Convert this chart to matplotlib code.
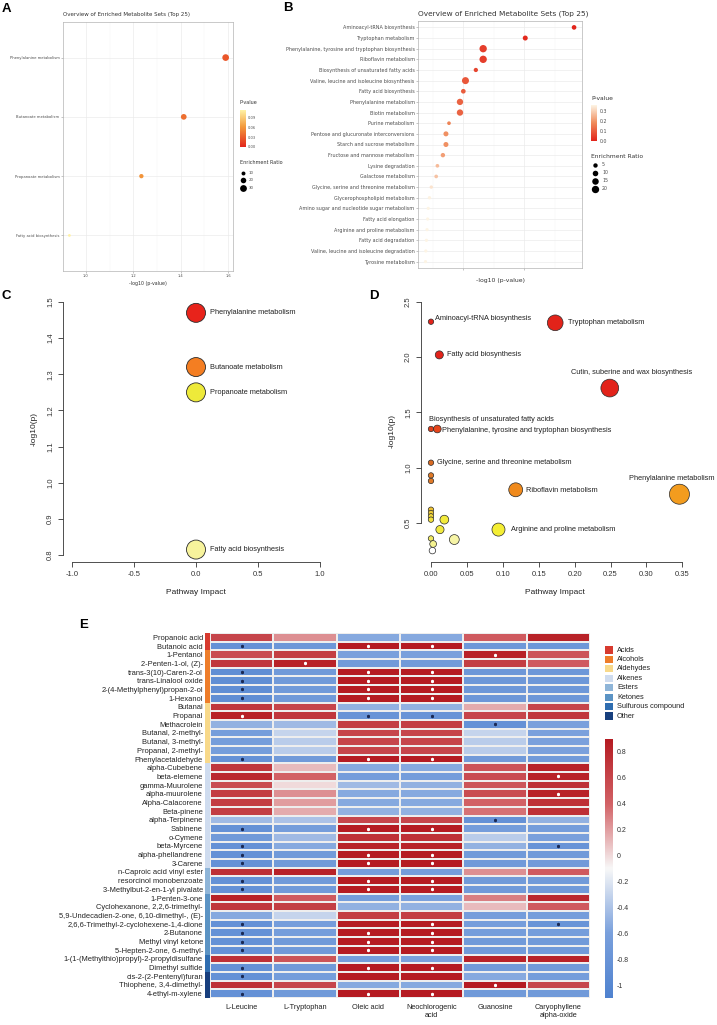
import numpy as np
import matplotlib
matplotlib.use("Agg")
import matplotlib.pyplot as plt
from matplotlib.colors import LinearSegmentedColormap, ListedColormap, Normalize
from matplotlib.cm import ScalarMappable
from matplotlib.patches import Rectangle

plt.rcParams["font.family"] = ["Liberation Sans", "DejaVu Sans"]

# ---------------- data ----------------
# A: enrichment overview (4 sets)
a_sets = ["Phenylalanine metabolism", "Butanoate metabolism",
          "Propanoate metabolism", "Fatty acid biosynthesis"]
a_logp = [1.59, 1.413, 1.234, 0.93]
a_ratio = [29, 21, 12, 5]

# B: enrichment overview (top 25)
b_sets = [
    "Aminoacyl-tRNA biosynthesis",
    "Tryptophan metabolism",
    "Phenylalanine, tyrosine and tryptophan biosynthesis",
    "Riboflavin metabolism",
    "Biosynthesis of unsaturated fatty acids",
    "Valine, leucine and isoleucine biosynthesis",
    "Fatty acid biosynthesis",
    "Phenylalanine metabolism",
    "Biotin metabolism",
    "Purine metabolism",
    "Pentose and glucuronate interconversions",
    "Starch and sucrose metabolism",
    "Fructose and mannose metabolism",
    "Lysine degradation",
    "Galactose metabolism",
    "Glycine, serine and threonine metabolism",
    "Glycerophospholipid metabolism",
    "Amino sugar and nucleotide sugar metabolism",
    "Fatty acid elongation",
    "Arginine and proline metabolism",
    "Fatty acid degradation",
    "Valine, leucine and isoleucine degradation",
    "Tyrosine metabolism",
]
b_logp = [2.82, 2.02, 1.33, 1.33, 1.21, 1.04, 1.005, 0.95, 0.95, 0.77, 0.72, 0.72,
          0.67, 0.58, 0.56, 0.48, 0.45, 0.43, 0.42, 0.41, 0.40, 0.39, 0.385]
b_ratio = [6, 7.5, 20, 20, 4.5, 18, 6, 14, 14, 2.5, 7.5, 7.5,
           5, 2.5, 2.5, 1.5, 1.5, 1, 1, 1, 1, 1, 1]

# C: pathway impact (4 pathways)
c_paths = ["Phenylalanine metabolism", "Butanoate metabolism",
           "Propanoate metabolism", "Fatty acid biosynthesis"]
c_impact = [0.0, 0.0, 0.0, 0.0]
c_logp = [1.47, 1.32, 1.25, 0.815]

# D: pathway impact (all pathways, unlabeled ones have "")
d_names = ["Aminoacyl-tRNA biosynthesis", "Tryptophan metabolism",
           "Fatty acid biosynthesis", "Cutin, suberine and wax biosynthesis",
           "Biosynthesis of unsaturated fatty acids",
           "Phenylalanine, tyrosine and tryptophan biosynthesis",
           "Glycine, serine and threonine metabolism", "", "",
           "Riboflavin metabolism", "Phenylalanine metabolism",
           "", "", "", "", "", "Arginine and proline metabolism",
           "", "", "", "", ""]
d_impact = [0.0, 0.173, 0.0116, 0.249, 0.0, 0.0088, 0.0, 0.0, 0.0, 0.118, 0.346,
            0.0, 0.0, 0.0, 0.0, 0.0186, 0.094, 0.0125, 0.0, 0.003, 0.0325, 0.002]
d_logp = [2.32, 2.31, 2.02, 1.72, 1.35, 1.35, 1.045, 0.93, 0.88, 0.80, 0.76,
          0.62, 0.59, 0.56, 0.53, 0.53, 0.44, 0.44, 0.36, 0.31, 0.35, 0.25]

# E: correlation heatmap
e_rows = [
    "Propanoic acid", "Butanoic acid", "1-Pentanol", "2-Penten-1-ol, (Z)-",
    "trans-3(10)-Caren-2-ol", "trans-Linalool oxide", "2-(4-Methylphenyl)propan-2-ol",
    "1-Hexanol", "Butanal", "Propanal", "Methacrolein", "Butanal, 2-methyl-",
    "Butanal, 3-methyl-", "Propanal, 2-methyl-", "Phenylacetaldehyde",
    "alpha-Cubebene", "beta-elemene", "gamma-Muurolene", "alpha-muurolene",
    "Alpha-Calacorene", "Beta-pinene", "alpha-Terpinene", "Sabinene", "o-Cymene",
    "beta-Myrcene", "alpha-phellandrene", "3-Carene", "n-Caproic acid vinyl ester",
    "resorcinol monobenzoate", "3-Methylbut-2-en-1-yl pivalate", "1-Penten-3-one",
    "Cyclohexanone, 2,2,6-trimethyl-", "5,9-Undecadien-2-one, 6,10-dimethyl-, (E)-",
    "2,6,6-Trimethyl-2-cyclohexene-1,4-dione", "2-Butanone", "Methyl vinyl ketone",
    "5-Hepten-2-one, 6-methyl-", "1-(1-(Methylthio)propyl)-2-propyldisulfane",
    "Dimethyl sulfide", "cis-2-(2-Pentenyl)furan", "Thiophene, 3,4-dimethyl-",
    "4-ethyl-m-xylene",
]
e_cols = ["L-Leucine", "L-Tryptophan", "Oleic acid", "Neochlorogenic\nacid",
          "Guanosine", "Caryophyllene\nalpha-oxide"]
e_classes = ["Acids", "Alcohols", "Aldehydes", "Alkenes", "Esters", "Ketones",
             "Sulfurous compound", "Other"]
e_row_class = ([0] * 2 + [1] * 6 + [2] * 7 + [3] * 12 + [4] * 3 + [5] * 7
               + [6] * 2 + [7] * 3)
e_values = [
    [0.60, 0.25, -0.55, -0.55, 0.45, 0.85],
    [-0.85, -0.75, 0.90, 0.90, -0.75, -0.75],
    [0.55, 0.65, -0.60, -0.60, 0.85, 0.50],
    [0.70, 0.85, -0.70, -0.70, 0.65, 0.45],
    [-0.90, -0.70, 0.90, 0.90, -0.75, -0.75],
    [-0.90, -0.70, 0.90, 0.90, -0.75, -0.75],
    [-0.90, -0.70, 0.90, 0.90, -0.75, -0.75],
    [-0.90, -0.70, 0.90, 0.90, -0.75, -0.75],
    [0.70, 0.60, -0.50, -0.50, 0.15, 0.60],
    [0.85, 0.70, -0.80, -0.80, 0.60, 0.70],
    [-0.50, -0.45, 0.65, 0.65, -0.85, -0.60],
    [-0.65, -0.30, 0.60, 0.60, -0.30, -0.60],
    [-0.65, -0.35, 0.60, 0.60, -0.35, -0.60],
    [-0.65, -0.35, 0.60, 0.60, -0.35, -0.60],
    [-0.85, -0.70, 0.90, 0.90, -0.70, -0.70],
    [0.70, 0.10, -0.55, -0.55, 0.50, 0.85],
    [0.80, 0.40, -0.65, -0.65, 0.55, 0.85],
    [0.55, 0.00, -0.45, -0.50, 0.50, 0.75],
    [0.65, 0.25, -0.55, -0.55, 0.55, 0.85],
    [0.65, 0.20, -0.55, -0.55, 0.40, 0.75],
    [0.65, 0.15, -0.50, -0.50, 0.35, 0.75],
    [-0.45, -0.40, 0.60, 0.60, -0.85, -0.50],
    [-0.85, -0.65, 0.90, 0.90, -0.65, -0.65],
    [-0.70, -0.45, 0.75, 0.75, -0.35, -0.60],
    [-0.85, -0.55, 0.85, 0.85, -0.50, -0.80],
    [-0.85, -0.70, 0.90, 0.90, -0.70, -0.70],
    [-0.85, -0.70, 0.90, 0.90, -0.70, -0.70],
    [0.75, 0.85, -0.65, -0.65, 0.25, 0.45],
    [-0.85, -0.70, 0.90, 0.90, -0.70, -0.70],
    [-0.85, -0.70, 0.90, 0.90, -0.70, -0.70],
    [0.85, 0.45, -0.65, -0.60, 0.30, 0.80],
    [0.70, 0.65, -0.50, -0.50, 0.10, 0.45],
    [-0.55, -0.30, 0.65, 0.65, -0.65, -0.65],
    [-0.85, -0.65, 0.90, 0.90, -0.65, -0.80],
    [-0.85, -0.65, 0.90, 0.90, -0.65, -0.65],
    [-0.85, -0.70, 0.90, 0.90, -0.70, -0.70],
    [-0.85, -0.70, 0.90, 0.90, -0.70, -0.70],
    [0.75, 0.50, -0.65, -0.60, 0.85, 0.85],
    [-0.85, -0.70, 0.90, 0.90, -0.70, -0.70],
    [-0.85, -0.65, 0.90, 0.90, -0.55, -0.65],
    [0.75, 0.60, -0.55, -0.55, 0.90, 0.60],
    [-0.85, -0.70, 0.90, 0.90, -0.70, -0.70],
]
# significant cells (row, column)
e_sig = [(1, 0), (1, 2), (1, 3), (2, 4), (3, 1),
         (4, 0), (4, 2), (4, 3), (5, 0), (5, 2), (5, 3),
         (6, 0), (6, 2), (6, 3), (7, 0), (7, 2), (7, 3),
         (9, 0), (9, 2), (9, 3), (10, 4), (14, 0), (14, 2), (14, 3),
         (16, 5), (18, 5), (21, 4), (22, 0), (22, 2), (22, 3),
         (24, 0), (24, 5), (25, 0), (25, 2), (25, 3), (26, 0), (26, 2), (26, 3),
         (28, 0), (28, 2), (28, 3), (29, 0), (29, 2), (29, 3),
         (33, 0), (33, 3), (33, 5), (34, 0), (34, 2), (34, 3),
         (35, 0), (35, 2), (35, 3), (36, 0), (36, 2), (36, 3),
         (38, 0), (38, 2), (38, 3), (39, 0), (40, 4), (41, 0), (41, 2), (41, 3)]

# ---------------- styles ----------------
c_colors = ["#e8231b", "#f47e22", "#eeea3a", "#f7f39c"]
d_colors = ["#e2231a", "#e2231a", "#e2231a", "#e2231a", "#e0401c", "#e6461c",
            "#d96a22", "#e07a28", "#e07a28", "#f08a1c", "#f39c1e",
            "#eec234", "#efcc36", "#f0d63a", "#f2e03c", "#f2ea3c", "#f4ee34",
            "#f2ea40", "#efe860", "#f4f290", "#f6f4a6", "#ffffff"]
# label offsets in px (right, up)
d_offsets = {
    "Aminoacyl-tRNA biosynthesis": (4, 3),
    "Tryptophan metabolism": (13, 0),
    "Fatty acid biosynthesis": (8, 0),
    "Cutin, suberine and wax biosynthesis": (-39, 16),
    "Biosynthesis of unsaturated fatty acids": (-2, 9),
    "Phenylalanine, tyrosine and tryptophan biosynthesis": (5, -2),
    "Glycine, serine and threonine metabolism": (6, 0),
    "Riboflavin metabolism": (10, -1),
    "Phenylalanine metabolism": (-50, 16),
    "Arginine and proline metabolism": (13, 0),
}
class_colors = ["#d73a2f", "#ee7d2a", "#f8d98a", "#cfdcef", "#8fb5d8",
                "#5b93c4", "#2f6db0", "#183f7e"]

GG = "DejaVu Sans"
GREY = "#4d4d4d"
cmap_a = LinearSegmentedColormap.from_list("pa", [(0, "#e3261c"), (0.55, "#f39a3c"), (1, "#fff2a6")])
cmap_b = LinearSegmentedColormap.from_list("pb", [(0, "#e2241a"), (0.5, "#ef8a5a"), (1, "#fdf4e4")])
cmap_e = LinearSegmentedColormap.from_list(
    "pe", [(0, "#4f82cf"), (0.25, "#7aa0dc"), (0.5, "#f7f7f7"), (0.75, "#d26266"), (1, "#b51b22")])
norm_a = Normalize(0, 0.112)
norm_b = Normalize(0, 0.36)
norm_e = Normalize(-1.1, 0.9)

W, H = 717, 1025
fig = plt.figure(figsize=(W / 100, H / 100), dpi=100)


def px_axes(l, t, r, b):
    # axes placed with pixel edges of the saved png
    return fig.add_axes([l / W, 1 - b / H, (r - l) / W, (b - t) / H])


def gg_panel(ax):
    for s in ax.spines.values():
        s.set_color("#b3b3b3")
        s.set_linewidth(0.5)
    ax.grid(True, which="major", color="#ebebeb", linewidth=0.5)
    ax.grid(True, which="minor", axis="x", color="#f5f5f5", linewidth=0.35)
    ax.set_axisbelow(True)
    ax.tick_params(which="major", colors="#999999", length=1.5, width=0.4, labelcolor=GREY, pad=1)
    ax.tick_params(which="minor", length=0)


def pt(px):
    return px * 0.72


# ---------------- panel A ----------------
ax = px_axes(63, 22, 233, 271)
ya = np.arange(len(a_sets))
ax.scatter(a_logp, ya, s=np.array(a_ratio) * 0.8, c=10 ** -np.array(a_logp),
           cmap=cmap_a, norm=norm_a, linewidths=0, zorder=3)
ax.set_xlim(0.903, 1.621)
ax.set_ylim(len(a_sets) - 0.4, -0.6)
ax.set_yticks(ya, a_sets, fontsize=2.7, family=GG)
ax.set_xticks([1.0, 1.2, 1.4, 1.6], ["1.0", "1.2", "1.4", "1.6"], fontsize=2.6, family=GG)
ax.set_xticks([1.1, 1.3, 1.5], minor=True)
gg_panel(ax)
ax.set_xlabel("-log10 (p-value)", fontsize=3.4, family=GG, color="#333333", labelpad=1.5)
ax.set_title("Overview of Enriched Metabolite Sets (Top 25)", loc="left",
             fontsize=4.0, family=GG, color="#333333", pad=4)

cax = px_axes(240, 110, 246, 147)
cb = fig.colorbar(ScalarMappable(norm_a, cmap_a), cax=cax, ticks=[0, 0.03, 0.06, 0.09])
cb.ax.set_yticklabels(["0.00", "0.03", "0.06", "0.09"], fontsize=2.6, family=GG, color=GREY)
cb.ax.tick_params(length=0, pad=1.5)
cb.outline.set_visible(False)

# ---------------- panel B ----------------
ax = px_axes(418, 21, 582, 268)
yb = np.arange(len(b_sets))
ax.scatter(b_logp, yb, s=4 + np.array(b_ratio) * 1.2, c=10 ** -np.array(b_logp),
           cmap=cmap_b, norm=norm_b, linewidths=0, zorder=3)
ax.set_xlim(0.262, 2.95)
ax.set_ylim(len(b_sets) - 0.4, -0.6)
ax.set_yticks(yb, b_sets, fontsize=3.5, family=GG)
ax.set_xticks([1, 2], ["", ""])
ax.set_xticks([0.5, 1.5, 2.5], minor=True)
gg_panel(ax)
ax.set_xlabel("-log10 (p-value)", fontsize=4.4, family=GG, color="#333333", labelpad=4)
ax.set_title("Overview of Enriched Metabolite Sets (Top 25)", loc="left",
             fontsize=5.3, family=GG, color="#333333", pad=4)

cax = px_axes(591, 105, 597, 141)
cb = fig.colorbar(ScalarMappable(norm_b, cmap_b), cax=cax, ticks=[0, 0.1, 0.2, 0.3])
cb.ax.set_yticklabels(["0.0", "0.1", "0.2", "0.3"], fontsize=3.4, family=GG, color=GREY)
cb.ax.tick_params(length=0, pad=2)
cb.outline.set_visible(False)


def base_axes(ax, xb, yb_, xticks, xlabels, yticks):
    ax.spines[["top", "right"]].set_visible(False)
    ax.spines["left"].set_bounds(*yb_)
    ax.spines["bottom"].set_bounds(*xb)
    for s in ("left", "bottom"):
        ax.spines[s].set_linewidth(0.6)
        ax.spines[s].set_color("#333333")
    ax.set_xticks(xticks, xlabels)
    ax.set_yticks(yticks, [f"{v:.1f}" for v in yticks], rotation=90, va="center")
    ax.tick_params(length=3.5, width=0.6, colors="#333333", labelsize=5.5, pad=3)
    ax.set_xlabel("Pathway Impact", fontsize=6, labelpad=8, color="#222222")
    ax.set_ylabel("-log10(p)", fontsize=6, labelpad=7, color="#222222")


# ---------------- panel C ----------------
ax = px_axes(63, 295, 329, 562)
ax.scatter(c_impact, c_logp, s=(19 * 0.72) ** 2, c=c_colors, edgecolors="#2a2a2a",
           linewidths=0.6, zorder=3)
for name, x, y in zip(c_paths, c_impact, c_logp):
    ax.annotate(name, (x, y), xytext=(pt(14), 0), textcoords="offset points",
                fontsize=5.3, va="center", ha="left", color="#222222")
ax.set_xlim(-1.0726, 1.0726)
ax.set_ylim(0.7806, 1.5194)
base_axes(ax, (-1, 1), (0.8, 1.5), [-1, -0.5, 0, 0.5, 1],
          ["-1.0", "-0.5", "0.0", "0.5", "1.0"], [0.8, 0.9, 1.0, 1.1, 1.2, 1.3, 1.4, 1.5])

# ---------------- panel D ----------------
ax = px_axes(421, 299.6, 689.5, 562)
d_imp = np.array(d_impact)
d_r = 2.7 + 7.3 * np.sqrt(d_imp / d_imp.max())
ax.scatter(d_impact, d_logp, s=(2 * d_r * 0.72) ** 2, c=d_colors, edgecolors="#2a2a2a",
           linewidths=0.5, zorder=3)
for name, x, y in zip(d_names, d_impact, d_logp):
    if name:
        dx, dy = d_offsets[name]
        ax.annotate(name, (x, y), xytext=(pt(dx), pt(dy)), textcoords="offset points",
                    fontsize=5.3, va="center", ha="left", color="#222222", zorder=4)
ax.set_xlim(-0.0139, 0.36)
ax.set_ylim(0.147, 2.52)
xt = [0, 0.05, 0.1, 0.15, 0.2, 0.25, 0.3, 0.35]
base_axes(ax, (0, 0.35), (0.5, 2.5), xt, [f"{v:.2f}" for v in xt], [0.5, 1.0, 1.5, 2.0, 2.5])

# ---------------- panel E ----------------
ax = px_axes(210, 633, 590, 998)
vals = np.array(e_values)
ax.pcolormesh(vals, cmap=cmap_e, norm=norm_e, edgecolors="#eeeeee", linewidth=0.25)
ax.set_xlim(0, len(e_cols))
ax.set_ylim(len(e_rows), 0)
for r, c in e_sig:
    col = "white" if vals[r, c] > 0 else "#1b2a55"
    ax.scatter(c + 0.5, r + 0.5, marker=(6, 2, 0), s=4, linewidths=0.5, color=col, zorder=3)
ax.set_yticks([])
ax.set_xticks(np.arange(len(e_cols)) + 0.5, e_cols, fontsize=5.3, color="#222222")
ax.tick_params(axis="x", length=0, pad=4)
for s in ax.spines.values():
    s.set_visible(False)

ann = px_axes(205, 633, 209.5, 998)
ann.pcolormesh(np.array(e_row_class)[:, None], cmap=ListedColormap(class_colors),
               vmin=-0.5, vmax=len(class_colors) - 0.5)
ann.set_xlim(0, 1)
ann.set_ylim(len(e_rows), 0)
ann.set_xticks([])
ann.set_yticks(np.arange(len(e_rows)) + 0.5, e_rows, fontsize=5.4, color="#222222")
ann.tick_params(axis="y", length=0, pad=1.5)
for s in ann.spines.values():
    s.set_visible(False)

cax = px_axes(605, 739, 613, 998)
et = [0.8, 0.6, 0.4, 0.2, 0, -0.2, -0.4, -0.6, -0.8, -1]
cb = fig.colorbar(ScalarMappable(norm_e, cmap_e), cax=cax, ticks=et)
cb.ax.set_yticklabels([f"{v:g}" for v in et], fontsize=5, color="#333333")
cb.ax.tick_params(length=0, pad=3)
cb.outline.set_visible(False)

# ---------------- overlay: letters and legends ----------------
ov = fig.add_axes([0, 0, 1, 1])
ov.set_xlim(0, W)
ov.set_ylim(H, 0)
ov.axis("off")

for letter, x, y in [("A", 2, 3), ("B", 283, 2), ("C", 1, 290), ("D", 369, 290), ("E", 79, 619)]:
    ov.text(x, y, letter, fontsize=9.5, fontweight="bold", va="top", ha="left")

# A legend
ov.text(240, 103, "P-value", fontsize=3.5, family=GG, va="center", color="#333333")
ov.text(240, 163, "Enrichment Ratio", fontsize=3.5, family=GG, va="center", color="#333333")
for v, y in zip([10, 20, 30], [173, 180, 188]):
    ov.scatter(243, y, s=v * 0.8, color="black", linewidths=0)
    ov.text(249, y, str(v), fontsize=2.8, family=GG, va="center", color=GREY)

# B legend
ov.text(591, 98, "P-value", fontsize=4.3, family=GG, va="center", color="#333333")
ov.text(591, 156, "Enrichment Ratio", fontsize=4.3, family=GG, va="center", color="#333333")
for v, y in zip([5, 10, 15, 20], [165, 173, 181, 189]):
    ov.scatter(595, y, s=4 + v * 1.2, color="black", linewidths=0)
    ov.text(602, y, str(v), fontsize=3.4, family=GG, va="center", color=GREY)

# E class legend
for i, (name, col) in enumerate(zip(e_classes, class_colors)):
    y = 650 + i * 9.43
    ov.add_patch(Rectangle((605, y - 3.6), 8, 7.2, facecolor=col, edgecolor="none"))
    ov.text(617, y, name, fontsize=5.3, va="center", color="#222222")

fig.savefig("out.png", dpi=100)
